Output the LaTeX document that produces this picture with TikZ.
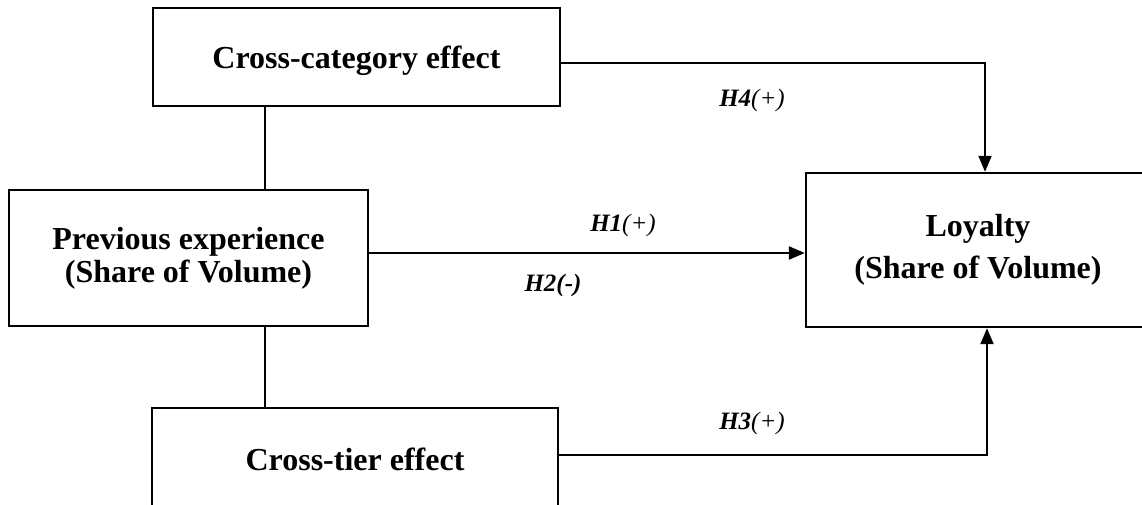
\documentclass[tikz,border=0pt]{standalone}
\usepackage{fontspec}
\setmainfont{Liberation Serif}
\usetikzlibrary{arrows.meta}
\tikzset{
  boxnode/.style={draw=black, line width=2.4pt, rectangle, inner sep=0pt, align=center,
    font=\fontsize{32}{33}\selectfont\bfseries},
  conn/.style={line width=2pt},
  arr/.style={line width=2.2pt, -{Triangle[width=13pt,length=16pt]}},
  thinline/.style={line width=1.2pt},
  hlabel/.style={font=\fontsize{25}{26}\selectfont, inner sep=0pt}
}
\begin{document}
\begin{tikzpicture}[x=1pt,y=-1pt]
\useasboundingbox (0,0) rectangle (1142,504);
\clip (0,0) rectangle (1142,504);
\fill[white] (0,0) rectangle (1142,504);
\node[boxnode, minimum width=407pt, minimum height=98pt, text height=28pt, text depth=6pt] (cc) at (356.5,57) {Cross-category effect};
\node[boxnode, minimum width=359pt, minimum height=136pt] (prev) at (188.5,258) {Previous experience\\(Share of Volume)};
\node[boxnode, minimum width=344pt, minimum height=154pt,
  font=\fontsize{32}{42}\selectfont\bfseries] (loy) at (978,250) {Loyalty\\(Share of Volume)};
\node[boxnode, minimum width=406pt, minimum height=102pt] (ct) at (355,459) {Cross-tier effect};
\coordinate (v) at (265,0);
\draw[thinline] (cc.south -| v) -- (prev.north -| v);
\draw[thinline] (prev.south -| v) -- (ct.north -| v);
\draw[arr] ([yshift=-6pt]cc.east) -| ([xshift=7pt]loy.north);
\draw[arr] ([yshift=5pt]prev.east) -- ([yshift=5pt]prev.east -| loy.west);
\draw[arr] ([yshift=4pt]ct.east) -| ([xshift=9pt]loy.south);
\node[hlabel] (h4) at (752,100) {\textbf{\textit{H4}}\textit{(+)}};
\node[hlabel] (h1) at (623,225) {\textbf{\textit{H1}}\textit{(+)}};
\node[hlabel] (h2) at (553,285) {\textbf{\textit{H2(-)}}};
\node[hlabel] (h3) at (752,423) {\textbf{\textit{H3}}\textit{(+)}};
\end{tikzpicture}
\end{document}
